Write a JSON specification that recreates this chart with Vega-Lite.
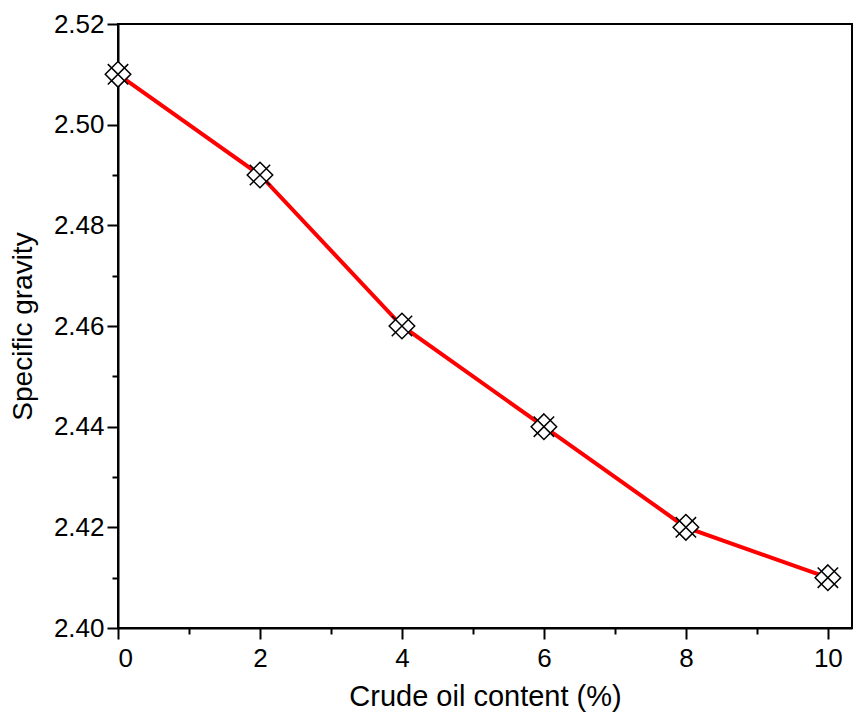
{
  "$schema": "https://vega.github.io/schema/vega-lite/v6.json",
  "width": 734,
  "height": 604,
  "autosize": "none",
  "padding": {"left": 118, "top": 24, "right": 2, "bottom": 87},
  "background": "white",
  "config": {
    "font": "Liberation Sans",
    "view": {"stroke": "black", "strokeWidth": 2},
    "axis": {
      "domainColor": "black", "domainWidth": 2, "tickColor": "black", "tickWidth": 2,
      "labelColor": "black", "titleColor": "black", "grid": false,
      "labelFont": "Liberation Sans", "titleFont": "Liberation Sans",
      "labelFontSize": 26, "titleFontSize": 28, "titleFontWeight": "normal"
    }
  },
  "data": {"values": [
    {"oil": 0, "sg": 2.51},
    {"oil": 2, "sg": 2.49},
    {"oil": 4, "sg": 2.46},
    {"oil": 6, "sg": 2.44},
    {"oil": 8, "sg": 2.42},
    {"oil": 10, "sg": 2.41}
  ]},
  "resolve": {"axis": {"x": "independent", "y": "independent"}},
  "layer": [
    {
      "mark": {"type": "line", "color": "#ff0000", "strokeWidth": 4},
      "encoding": {
        "x": {"field": "oil", "type": "quantitative",
          "scale": {"domain": [0, 10.34], "nice": false, "zero": false},
          "axis": {"orient": "bottom", "title": "Crude oil content (%)", "values": [0, 2, 4, 6, 8, 10], "format": "d", "tickSize": 11, "labelPadding": 6, "titlePadding": 11, "titleFontSize": 29}},
        "y": {"field": "sg", "type": "quantitative",
          "scale": {"domain": [2.40, 2.52], "nice": false, "zero": false},
          "axis": {"orient": "left", "title": "Specific gravity", "values": [2.40, 2.42, 2.44, 2.46, 2.48, 2.50, 2.52], "format": ".2f", "tickSize": 11, "labelPadding": 3, "titlePadding": 16}}
      }
    },
    {
      "mark": {"type": "point", "shape": "M0,-1L1,0L0,1L-1,0Z M-0.8,0.8L0.8,-0.8 M-0.8,-0.8L0.8,0.8", "size": 650, "filled": false, "fill": "white", "fillOpacity": 1, "stroke": "black", "strokeWidth": 1.5, "opacity": 1},
      "encoding": {
        "x": {"field": "oil", "type": "quantitative", "axis": null},
        "y": {"field": "sg", "type": "quantitative", "axis": null}
      }
    },
    {
      "mark": {"type": "point", "opacity": 0},
      "encoding": {
        "x": {"field": "oil", "type": "quantitative",
          "axis": {"orient": "bottom", "title": null, "labels": false, "domain": false, "values": [1, 3, 5, 7, 9], "tickSize": 6}},
        "y": {"field": "sg", "type": "quantitative",
          "axis": {"orient": "left", "title": null, "labels": false, "domain": false, "values": [2.41, 2.43, 2.45, 2.47, 2.49, 2.51], "tickSize": 6}}
      }
    }
  ]
}
